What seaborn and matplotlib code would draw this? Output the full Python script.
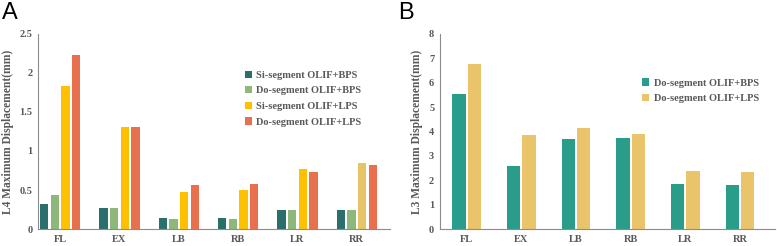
import matplotlib.pyplot as plt
import numpy as np
import pandas as pd
import seaborn as sns

categories = ['FL', 'EX', 'LB', 'RB', 'LR', 'RR']

# panel A: L4 maximum displacement (mm)
a_series = ['Si-segment OLIF+BPS', 'Do-segment OLIF+BPS',
            'Si-segment OLIF+LPS', 'Do-segment OLIF+LPS']
a_si_bps = [0.325, 0.27, 0.137, 0.137, 0.24, 0.24]
a_do_bps = [0.44, 0.27, 0.124, 0.124, 0.245, 0.24]
a_si_lps = [1.83, 1.31, 0.47, 0.50, 0.77, 0.84]
a_do_lps = [2.23, 1.31, 0.56, 0.58, 0.73, 0.825]
a_colors = ['#2A6F6B', '#8DB87A', '#FFC000', '#E8704F']

# panel B: L3 maximum displacement (mm)
b_series = ['Do-segment OLIF+BPS', 'Do-segment OLIF+LPS']
b_do_bps = [5.53, 2.58, 3.69, 3.72, 1.85, 1.81]
b_do_lps = [6.78, 3.85, 4.13, 3.90, 2.39, 2.35]
b_colors = ['#2A9D8A', '#E9C46A']

grey = '#595959'
plt.rcParams['font.family'] = ['Liberation Serif', 'DejaVu Serif']
plt.rcParams['font.weight'] = 'bold'

df_a = pd.DataFrame({
    'cat': categories * 4,
    'val': a_si_bps + a_do_bps + a_si_lps + a_do_lps,
    'series': np.repeat(a_series, len(categories)),
})
df_b = pd.DataFrame({
    'cat': categories * 2,
    'val': b_do_bps + b_do_lps,
    'series': np.repeat(b_series, len(categories)),
})

fig = plt.figure(figsize=(7.77, 2.46), dpi=100)
ax1 = fig.add_axes([0.049, 0.069, 0.453, 0.793])
ax2 = fig.add_axes([0.566, 0.069, 0.432, 0.793])

sns.barplot(data=df_a, x='cat', y='val', hue='series', palette=a_colors,
            width=0.72, gap=0.22, ax=ax1, saturation=1)
sns.barplot(data=df_b, x='cat', y='val', hue='series', palette=b_colors,
            width=0.56, gap=0.13, ax=ax2, saturation=1)

# the RR Si-segment OLIF+LPS bar is drawn in a paler gold in the original
ax1.containers[2][5].set_facecolor('#E8C468')

for ax, top, step, xlim in [(ax1, 2.5, 0.5, (-0.37, 5.56)),
                            (ax2, 8, 1, (-0.49, 5.65))]:
    ax.set_ylim(0, top)
    ax.set_yticks(np.arange(0, top + step / 2, step))
    ax.set_yticklabels([f'{v:g}' for v in np.arange(0, top + step / 2, step)])
    ax.set_xlim(*xlim)
    ax.set_xlabel('')
    for s in ['top', 'right']:
        ax.spines[s].set_visible(False)
    for s in ['left', 'bottom']:
        ax.spines[s].set_color('#8c8c8c')
        ax.spines[s].set_linewidth(0.8)
    ax.tick_params(axis='both', length=0, labelsize=7.5, colors=grey, pad=4)
    for lbl in ax.get_xticklabels() + ax.get_yticklabels():
        lbl.set_fontweight('bold')

ax1.set_ylabel('L4 Maximum Displacement(mm)', fontsize=8.3, color=grey,
               fontweight='bold', labelpad=4)
ax2.set_ylabel('L3 Maximum Displacement(mm)', fontsize=8.3, color=grey,
               fontweight='bold', labelpad=4)

leg1 = ax1.legend(loc='upper left', bbox_to_anchor=(0.56, 0.86), frameon=False,
                  fontsize=7.5, handlelength=0.7, handleheight=0.7,
                  handletextpad=0.4, labelspacing=0.6, title=None)
leg2 = ax2.legend(loc='upper left', bbox_to_anchor=(0.575, 0.82), frameon=False,
                  fontsize=7.5, handlelength=0.7, handleheight=0.7,
                  handletextpad=0.4, labelspacing=0.6, title=None)
for leg in (leg1, leg2):
    for t in leg.get_texts():
        t.set_color(grey)
        t.set_fontweight('bold')

fig.text(0.002, 0.99, 'A', fontsize=17, family='Liberation Sans',
         fontweight='normal', va='top', ha='left')
fig.text(0.513, 0.99, 'B', fontsize=17, family='Liberation Sans',
         fontweight='normal', va='top', ha='left')

fig.savefig('out.png', dpi=100)
